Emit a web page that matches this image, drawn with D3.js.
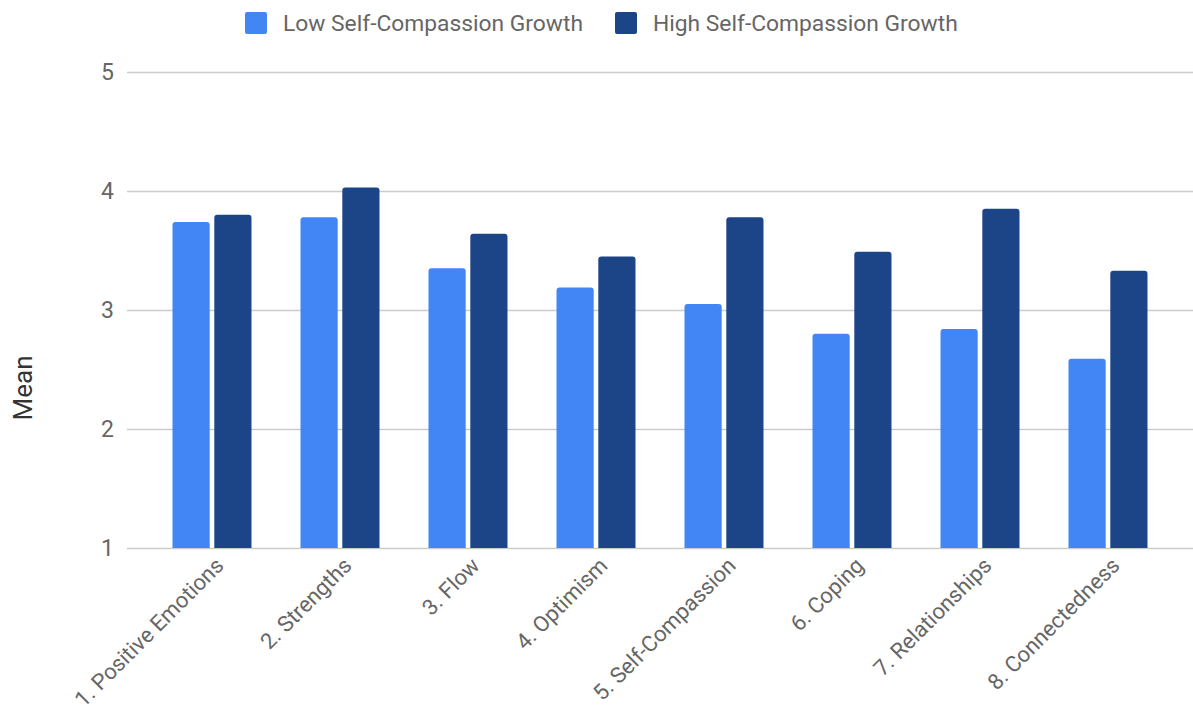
<!DOCTYPE html>
<html>
<head>
<meta charset="utf-8">
<script src="https://cdn.jsdelivr.net/npm/d3@7"></script>
<style>
  body { margin: 0; background: #fff; }
  svg { display: block; font-family: Roboto, "Noto Sans", sans-serif; }
</style>
</head>
<body>
<div id="chart"></div>
<script>
// data
const categories = ["1. Positive Emotions", "2. Strengths", "3. Flow", "4. Optimism",
    "5. Self-Compassion", "6. Coping", "7. Relationships", "8. Connectedness"];
const seriesNames = ["Low Self-Compassion Growth", "High Self-Compassion Growth"];
const lowValues = [3.74, 3.78, 3.35, 3.19, 3.05, 2.80, 2.84, 2.59];
const highValues = [3.80, 4.03, 3.64, 3.45, 3.78, 3.49, 3.85, 3.33];
const yTicks = [1, 2, 3, 4, 5];
const colors = ["#4285f4", "#1c4587"];

const width = 1193, height = 716;
const margin = { top: 72, right: 0, bottom: 168, left: 127 };

const svg = d3.select("#chart").append("svg")
    .attr("width", width)
    .attr("height", height);

const y = d3.scaleLinear()
    .domain([1, 5])
    .range([height - margin.bottom, margin.top]);

const x0 = d3.scaleBand()
    .domain(categories)
    .range([148, 1172])
    .paddingInner(0.383)
    .paddingOuter(0.1915);

const x1 = d3.scaleBand()
    .domain([0, 1])
    .range([0, x0.bandwidth()])
    .paddingInner(0.11);

// gridlines
svg.append("g")
    .selectAll("line")
    .data(yTicks)
    .join("line")
    .attr("x1", margin.left)
    .attr("x2", width)
    .attr("y1", d => Math.round(y(d)) + 0.5)
    .attr("y2", d => Math.round(y(d)) + 0.5)
    .attr("stroke", "#cccccc")
    .attr("stroke-width", 1.5);

// y tick labels
svg.append("g")
    .selectAll("text")
    .data(yTicks)
    .join("text")
    .attr("x", 114)
    .attr("y", d => y(d))
    .attr("dy", "0.35em")
    .attr("text-anchor", "end")
    .attr("fill", "#666")
    .style("font-size", "23px")
    .text(d => d);

// y axis title
svg.append("text")
    .attr("transform", `translate(32,${388}) rotate(-90)`)
    .attr("text-anchor", "middle")
    .attr("fill", "#333")
    .style("font-size", "26px")
    .text("Mean");

// bar with rounded top corners
function barPath(x, w, top, bottom, r) {
    r = Math.min(r, (bottom - top));
    return `M${x},${bottom}V${top + r}Q${x},${top} ${x + r},${top}` +
        `H${x + w - r}Q${x + w},${top} ${x + w},${top + r}V${bottom}Z`;
}

const rows = categories.map((c, i) => ({ cat: c, vals: [lowValues[i], highValues[i]] }));

svg.append("g")
    .selectAll("g")
    .data(rows)
    .join("g")
    .attr("transform", d => `translate(${x0(d.cat)},0)`)
    .selectAll("path")
    .data(d => d.vals.map((v, k) => ({ k, v })))
    .join("path")
    .attr("d", d => barPath(x1(d.k), x1.bandwidth(), y(d.v), y(1), 3))
    .attr("fill", d => colors[d.k]);

// x labels
svg.append("g")
    .selectAll("text")
    .data(categories)
    .join("text")
    .attr("transform", d => `translate(${x0(d) + x0.bandwidth() / 2 + 13},${567}) rotate(-45)`)
    .attr("text-anchor", "end")
    .attr("fill", "#666")
    .style("font-size", "22px")
    .text(d => d);

// legend
const legendX = [245, 615];
const legend = svg.append("g")
    .selectAll("g")
    .data(seriesNames)
    .join("g")
    .attr("transform", (d, i) => `translate(${legendX[i]},12)`);
legend.append("rect")
    .attr("width", 22)
    .attr("height", 22)
    .attr("rx", 2)
    .attr("fill", (d, i) => colors[i]);
legend.append("text")
    .attr("x", 38)
    .attr("y", 11)
    .attr("dy", "0.35em")
    .attr("fill", "#666")
    .style("font-size", "22.8px")
    .text(d => d);
</script>
</body>
</html>
